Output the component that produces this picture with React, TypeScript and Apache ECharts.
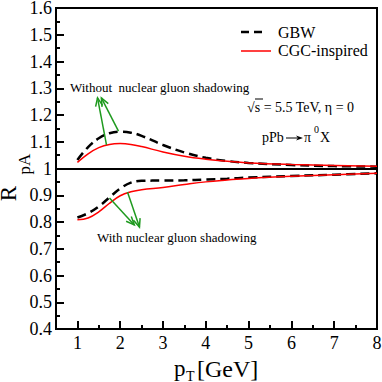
import React, { useEffect, useRef } from "react";
import * as echarts from "echarts";

const FONT = "Liberation Serif";

const pT = [1, 1.25, 1.5, 1.75, 2, 2.25, 2.5, 3, 3.5, 4, 4.5, 5, 6, 7, 8];
const gbwUpper = [1.032, 1.08, 1.113, 1.132, 1.138, 1.134, 1.122, 1.088, 1.06, 1.04, 1.028, 1.021, 1.013, 1.009, 1.007];
const cgcUpper = [1.023, 1.055, 1.078, 1.09, 1.093, 1.09, 1.082, 1.062, 1.046, 1.035, 1.027, 1.021, 1.015, 1.011, 1.008];
const gbwLower = [0.817, 0.833, 0.858, 0.892, 0.925, 0.947, 0.954, 0.955, 0.956, 0.959, 0.962, 0.966, 0.972, 0.977, 0.982];
const cgcLower = [0.808, 0.815, 0.838, 0.87, 0.898, 0.913, 0.921, 0.929, 0.94, 0.95, 0.957, 0.963, 0.971, 0.977, 0.982];

const xMajorTicks = [1, 2, 3, 4, 5, 6, 7, 8];
const xMinorTicks = [1.5, 2.5, 3.5, 4.5, 5.5, 6.5, 7.5];

// arrows: [fromX, fromY, toX, toY]
const arrows = [
  [1.68, 1.088, 1.47, 1.264],
  [1.96, 1.14, 1.56, 1.264],
  [1.75, 0.89, 2.33, 0.789],
  [2.17, 0.912, 2.45, 0.781],
];

const zip = (xs: number[], ys: number[]) => xs.map((x, i) => [x, ys[i]]);

function txt(text: string, x: number, y: number, size: number, align = "left", vAlign = "middle") {
  return {
    type: "text",
    x,
    y,
    style: {
      text,
      fontSize: size,
      fontFamily: FONT,
      fill: "#000",
      align,
      verticalAlign: vAlign,
    },
  };
}

export default function App() {
  const ref = useRef<HTMLDivElement>(null);
  useEffect(() => {
    const chart = echarts.init(ref.current!, null, { renderer: "svg" });
    const lineBase = { type: "line", showSymbol: false, symbol: "none", smooth: 0.4, xAxisIndex: 0, yAxisIndex: 0, z: 3 };
    const gbwStyle = { color: "#000", width: 2.5, type: [9, 5] };
    const cgcStyle = { color: "#ff0000", width: 1.5, type: "solid" };
    const green = "#1f9a1f";
    chart.setOption({
      animation: false,
      grid: { left: 56, right: 5, top: 8, bottom: 53, show: true, borderColor: "#000", borderWidth: 2, outerBoundsMode: "none" },
      xAxis: [
        {
          type: "value",
          min: 0.5,
          max: 8,
          axisLine: { show: true, onZero: false, lineStyle: { color: "#000", width: 2 } },
          axisTick: { show: true, inside: true, length: 8, customValues: xMajorTicks, lineStyle: { color: "#000", width: 2 } },
          axisLabel: { customValues: xMajorTicks, fontSize: 18, fontFamily: FONT, color: "#000", margin: 5 },
          splitLine: { show: false },
        },
        {
          type: "value",
          min: 0.5,
          max: 8,
          position: "bottom",
          axisLine: { show: false },
          axisTick: { show: true, inside: true, length: 4, customValues: xMinorTicks, lineStyle: { color: "#000", width: 2 } },
          axisLabel: { show: false },
          splitLine: { show: false },
        },
      ],
      yAxis: [
        {
          type: "value",
          min: 0.4,
          max: 1.6,
          interval: 0.1,
          name: "R",
          nameLocation: "middle",
          nameRotate: 90,
          nameGap: 36,
          nameMoveOverlap: false,
          nameTextStyle: { fontSize: 23, fontFamily: FONT, color: "#000", padding: [0, 50, 0, 0] },
          axisLine: { show: true, onZero: false, lineStyle: { color: "#000", width: 2 } },
          axisTick: { show: true, inside: true, length: 8, lineStyle: { color: "#000", width: 2 } },
          minorTick: { show: true, splitNumber: 2, length: 4, lineStyle: { color: "#000", width: 2 } },
          axisLabel: {
            fontSize: 18,
            fontFamily: FONT,
            color: "#000",
            margin: 4,
            formatter: (v: number) => String(parseFloat(v.toFixed(1))),
          },
          splitLine: { show: false },
          minorSplitLine: { show: false },
        },
        {
          type: "value",
          min: 0.4,
          max: 1.6,
          position: "left",
          name: "pA",
          nameLocation: "middle",
          nameRotate: 90,
          nameGap: 23,
          nameMoveOverlap: false,
          nameTextStyle: { fontSize: 17, fontFamily: FONT, color: "#000", padding: [0, 0, 0, 9] },
          axisLine: { show: false },
          axisTick: { show: false },
          axisLabel: { show: false },
          splitLine: { show: false },
        },
      ],
      series: [
        {
          ...lineBase,
          name: "GBW",
          data: zip(pT, gbwUpper),
          lineStyle: gbwStyle,
          markLine: {
            silent: true,
            symbol: "none",
            label: { show: false },
            lineStyle: { color: "#000", width: 2, type: "solid" },
            data: [{ yAxis: 1 }],
          },
        },
        { ...lineBase, name: "GBW lower", data: zip(pT, gbwLower), lineStyle: gbwStyle },
        { ...lineBase, name: "CGC-inspired", data: zip(pT, cgcUpper), lineStyle: cgcStyle },
        { ...lineBase, name: "CGC lower", data: zip(pT, cgcLower), lineStyle: cgcStyle },
        {
          type: "custom",
          name: "arrows",
          xAxisIndex: 0,
          yAxisIndex: 0,
          z: 4,
          data: arrows,
          renderItem: (params: any, api: any) => {
            const a = api.coord([api.value(0), api.value(1)]);
            const b = api.coord([api.value(2), api.value(3)]);
            const ang = Math.atan2(b[1] - a[1], b[0] - a[0]);
            const L = 9;
            const w = 0.4;
            const h1 = [b[0] - L * Math.cos(ang - w), b[1] - L * Math.sin(ang - w)];
            const h2 = [b[0] - L * Math.cos(ang + w), b[1] - L * Math.sin(ang + w)];
            const st = { stroke: green, lineWidth: 1.5, fill: "none" };
            return {
              type: "group",
              children: [
                { type: "line", shape: { x1: a[0], y1: a[1], x2: b[0], y2: b[1] }, style: st },
                { type: "polyline", shape: { points: [h1, b, h2] }, style: st },
              ],
            };
          },
        },
      ],
      graphic: [
        // legend
        { type: "line", shape: { x1: 241, y1: 32, x2: 262, y2: 32 }, style: { stroke: "#000", lineWidth: 2.5, lineDash: [8, 5] } },
        txt("GBW", 278, 32, 16),
        { type: "line", shape: { x1: 241, y1: 51, x2: 271, y2: 51 }, style: { stroke: "#ff0000", lineWidth: 1.5 } },
        txt("CGC-inspired", 278, 50, 16),
        // annotations
        txt("Without  nuclear gluon shadowing", 70, 87, 13),
        txt("With nuclear gluon shadowing", 97, 237, 13),
        txt("√s = 5.5 TeV, η = 0", 247, 107, 14),
        { type: "line", shape: { x1: 255, y1: 99, x2: 263, y2: 99 }, style: { stroke: "#000", lineWidth: 1 } },
        txt("pPb", 262, 137, 14),
        { type: "line", shape: { x1: 286, y1: 138, x2: 300, y2: 138 }, style: { stroke: "#000", lineWidth: 1 } },
        { type: "polygon", shape: { points: [[296, 135.5], [303, 138], [296, 140.5], [298, 138]] }, style: { fill: "#000" } },
        txt("π", 304, 137, 14),
        txt("0", 314, 129, 10),
        txt("X", 320, 137, 14),
        // x axis title
        txt("p", 174, 357, 23, "left", "alphabetic"),
        txt("T", 186, 369, 14, "left", "alphabetic"),
        txt("[GeV]", 197, 357, 24, "left", "alphabetic"),
      ],
    });
    return () => chart.dispose();
  }, []);
  return <div ref={ref} style={{ position: "fixed", left: 0, top: 0, width: 382, height: 382, background: "#fff" }} />;
}
